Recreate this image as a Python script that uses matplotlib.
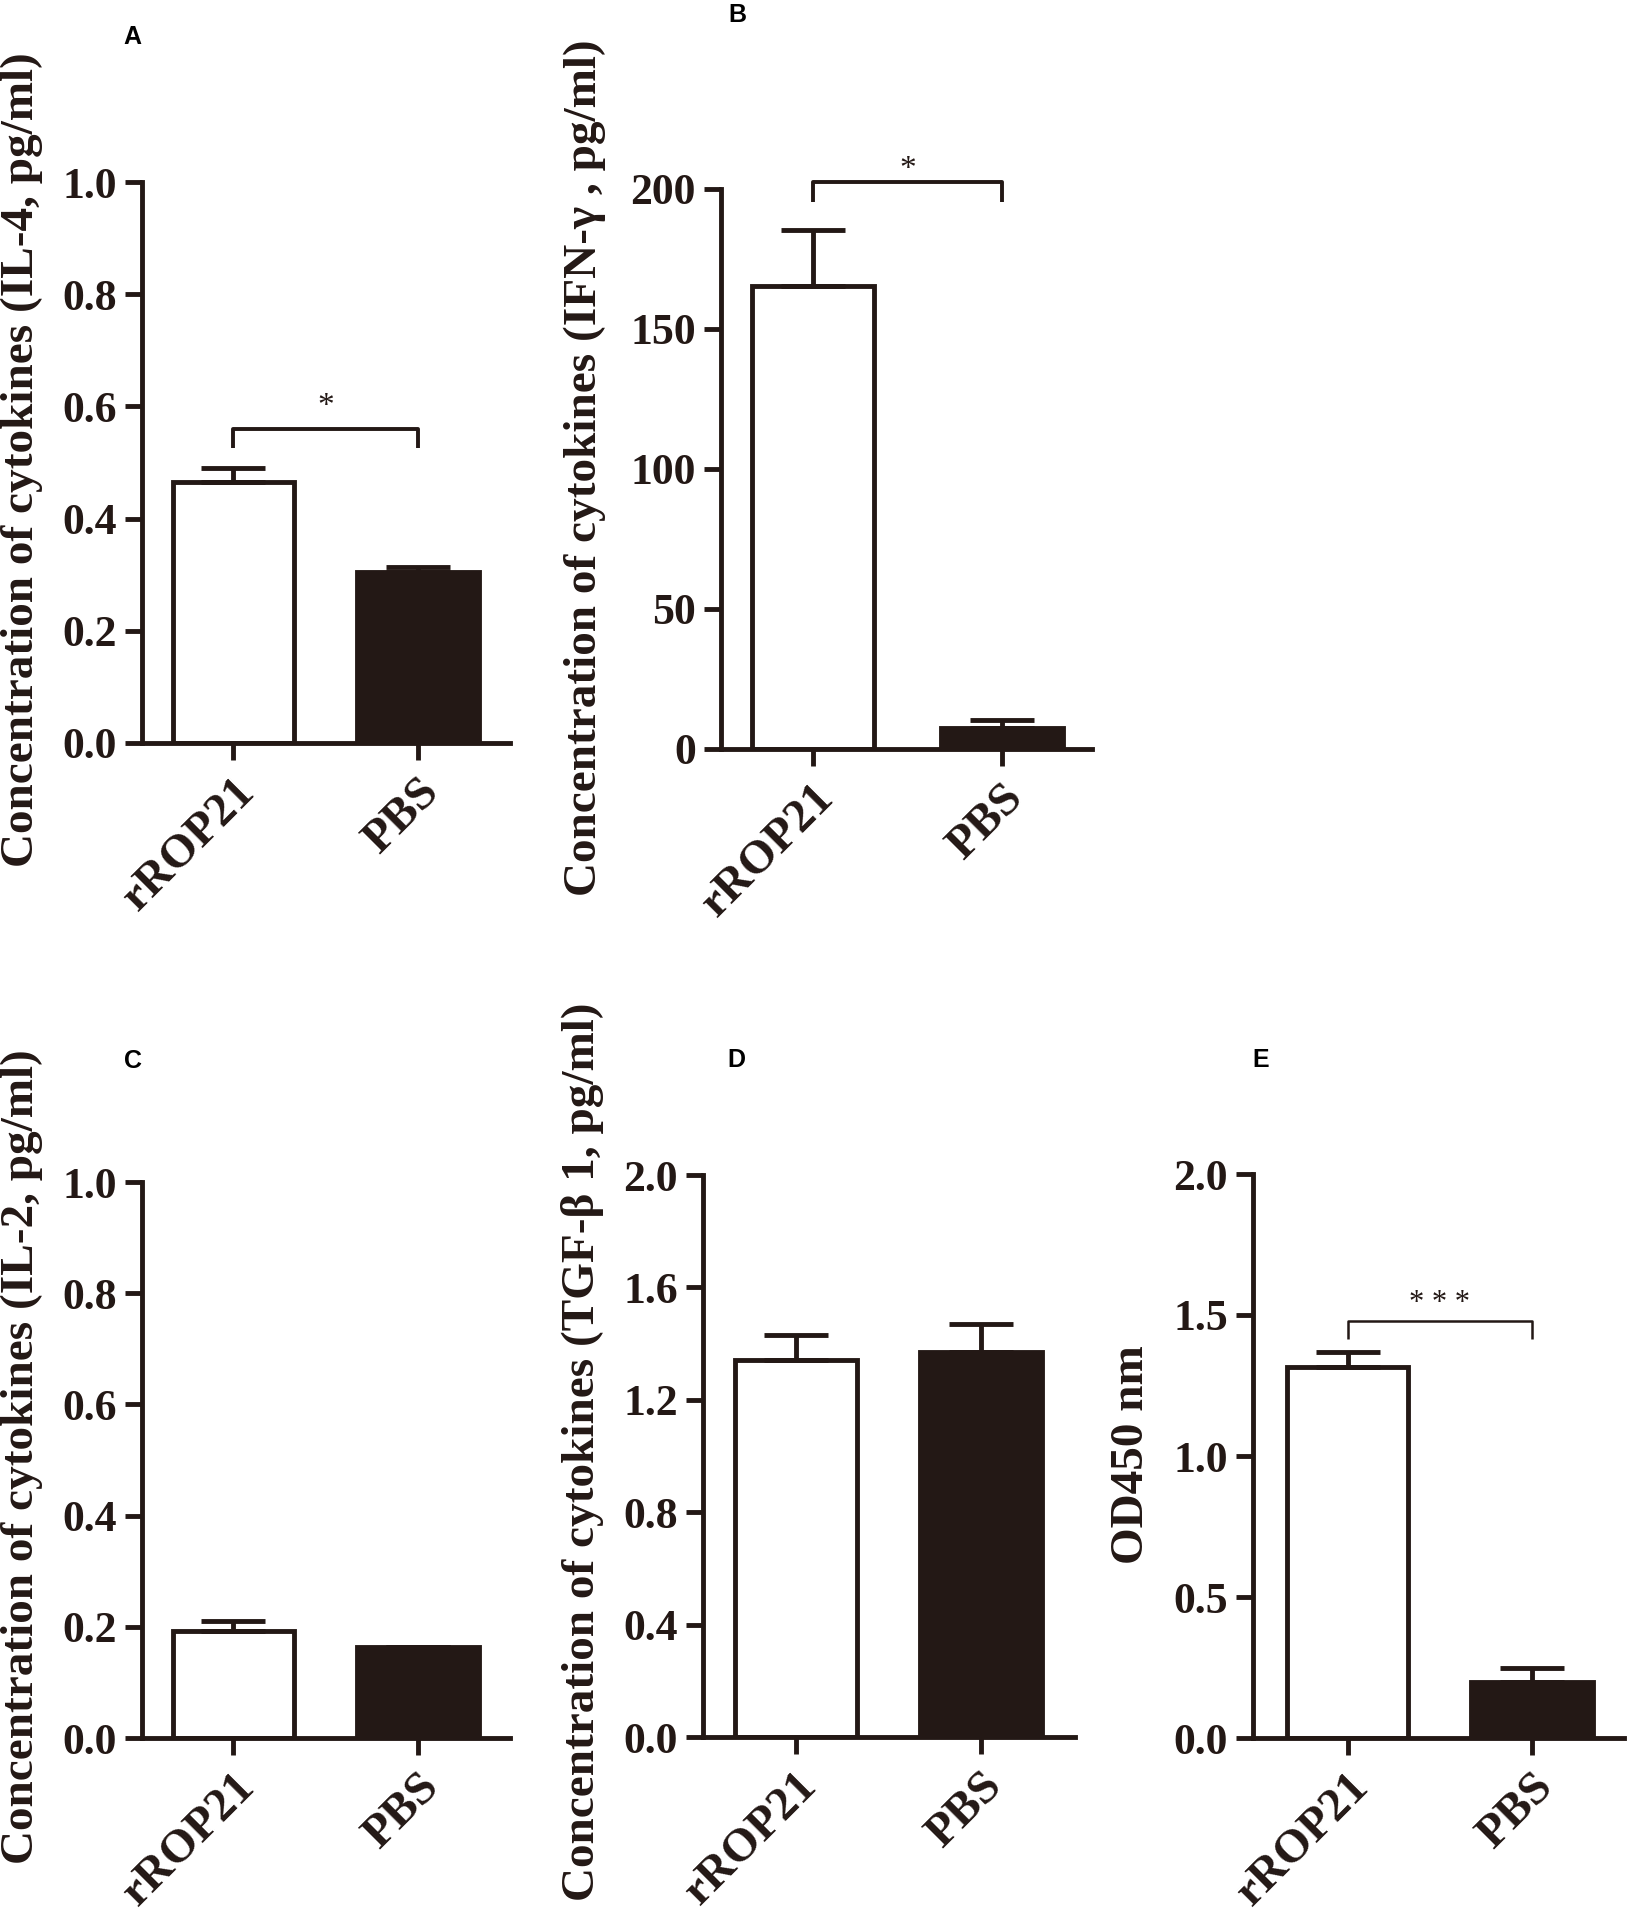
import matplotlib
matplotlib.use('Agg')
import matplotlib.pyplot as plt

W, H = 1627, 1917
INK = '#231815'

groups = ['rROP21', 'PBS']

il4_mean = [0.465, 0.305]
il4_err = [0.025, 0.008]
ifn_mean = [165.5, 7.5]
ifn_err = [20.0, 3.0]
il2_mean = [0.193, 0.163]
il2_err = [0.017, 0.0]
tgf_mean = [1.342, 1.37]
tgf_err = [0.088, 0.10]
od_mean = [1.316, 0.199]
od_err = [0.053, 0.049]

ticks_a = [0.0, 0.2, 0.4, 0.6, 0.8, 1.0]
ticks_b = [0, 50, 100, 150, 200]
ticks_d = [0.0, 0.4, 0.8, 1.2, 1.6, 2.0]
ticks_e = [0.0, 0.5, 1.0, 1.5, 2.0]

SERIF = 'Liberation Serif'
SANS = 'Liberation Sans'

fig = plt.figure(figsize=(W / 100, H / 100), dpi=100)


def px_rect(l, t, r, b):
    return [l / W, 1 - b / H, (r - l) / W, (b - t) / H]


def panel(rect, xlim, width, means, errs, ticks, fmt, ylabel, lab_xy,
          letter, let_xy, sig=None):
    ax = fig.add_axes(px_rect(*rect))
    x = [0, 1]
    ax.bar(x, means, width, color=['white', INK], edgecolor=INK,
           linewidth=3.5, zorder=2)
    ax.errorbar(x, means, yerr=[[0, 0], errs], fmt='none', ecolor=INK,
                elinewidth=3.5, capsize=23, capthick=3.5, zorder=3,
                clip_on=False)
    ax.set_xlim(*xlim)
    ax.set_ylim(ticks[0], ticks[-1])
    ax.set_yticks(ticks)
    ax.set_yticklabels([fmt % t for t in ticks], fontsize=31.5,
                       fontweight='bold', family=SERIF, color=INK)
    ax.set_xticks(x)
    ax.set_xticklabels(groups, rotation=45, ha='right',
                       rotation_mode='anchor', fontsize=34,
                       fontweight='bold', family=SERIF, color=INK)
    for s in ['top', 'right']:
        ax.spines[s].set_visible(False)
    for s in ['left', 'bottom']:
        ax.spines[s].set_linewidth(3.5)
        ax.spines[s].set_color(INK)
    ax.tick_params(axis='y', length=12, width=3.5, color=INK, pad=6)
    ax.tick_params(axis='x', length=12, width=3.5, color=INK, pad=8)

    if sig is not None:
        yl, yd, txt, ty, lw, fs = sig
        ax.plot([0, 0, 1, 1], [yd, yl, yl, yd], color=INK, lw=lw,
                clip_on=False, solid_capstyle='butt', zorder=4)
        ax.text(0.5, ty, txt, ha='center', va='center', fontsize=fs,
                family=SERIF, color=INK, clip_on=False)

    fig.text(lab_xy[0] / W, 1 - lab_xy[1] / H, ylabel, rotation=90,
             ha='center', va='center', fontsize=34, fontweight='bold',
             family=SERIF, color=INK)
    fig.text(let_xy[0] / W, 1 - let_xy[1] / H, letter, ha='center',
             va='center', fontsize=18, fontweight='bold', family=SANS,
             color='black')
    return ax


# A: IL-4
panel((142, 182, 510, 743), (-0.496, 1.499), 0.66, il4_mean, il4_err,
      ticks_a, '%.1f', 'Concentration of cytokines (IL-4, pg/ml)', (22, 460),
      'A', (132, 37), sig=(0.559, 0.525, '*', 0.60, 2.8, 24))

# B: IFN-gamma
panel((721, 189, 1092, 749), (-0.487, 1.476), 0.65, ifn_mean, ifn_err,
      ticks_b, '%d', 'Concentration of cytokines (IFN-γ , pg/ml)', (585, 468),
      'B', (737, 15), sig=(202.5, 195.4, '*', 207, 2.8, 24))

# C: IL-2
panel((142, 1182, 510, 1738), (-0.496, 1.499), 0.66, il2_mean, il2_err,
      ticks_a, '%.1f', 'Concentration of cytokines (IL-2, pg/ml)', (22, 1457),
      'C', (133, 1061))

# D: TGF-beta1
panel((703, 1175, 1075, 1737), (-0.501, 1.51), 0.66, tgf_mean, tgf_err,
      ticks_d, '%.1f', 'Concentration of cytokines (TGF-β 1, pg/ml)',
      (582, 1452), 'D', (736, 1060))

# E: OD450
panel((1253, 1174, 1624, 1738), (-0.512, 1.498), 0.66, od_mean, od_err,
      ticks_e, '%.1f', 'OD450 nm', (1132, 1455),
      'E', (1261, 1060), sig=(1.48, 1.415, '* * *', 1.54, 1.8, 22))

fig.savefig('out.png', dpi=100)
